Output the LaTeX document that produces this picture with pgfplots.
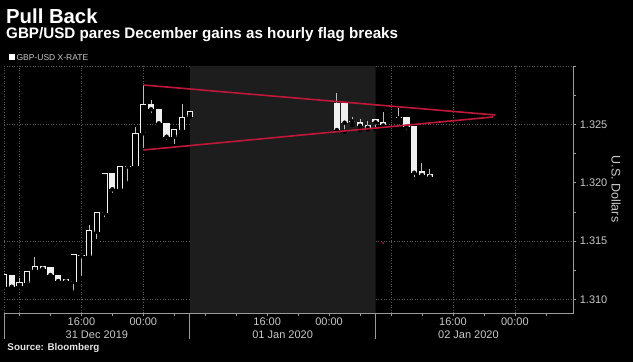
\documentclass[border=0pt]{standalone}
\usepackage{pgfplots}
\pgfplotsset{compat=1.18}
\usepackage{pgfplotstable}
\usepackage{fontspec}
\setmainfont{Liberation Sans}
\definecolor{shade}{HTML}{1D1D1D}
\definecolor{gridc}{HTML}{5A5A5A}
\definecolor{axisc}{HTML}{9A9A9A}
\definecolor{labc}{HTML}{C8C8C8}
\definecolor{bodyc}{HTML}{F0F0F0}
\definecolor{wickc}{HTML}{BDBDBD}
\definecolor{flagred}{HTML}{C0173A}

% hourly candles, h = hours after 06:00 on 31 Dec; bt/bb = body top/bottom, hi/lo = wick
\pgfplotstableread{
h bt bb hi lo
1 1.31208 1.31108 1.31208 1.31108
5 1.31283 1.31262 1.31283 1.31262
6 1.31274 1.31208 1.31274 1.31208
7 1.31208 1.31157 1.31208 1.31123
8 1.31174 1.31154 1.31174 1.31154
10 1.31378 1.31370 1.31378 1.31183
14 1.32080 1.31943 1.32080 1.31894
16 1.32147 1.32139 1.32147 1.31994
19 1.32671 1.32629 1.32708 1.32580
20 1.32629 1.32509 1.32629 1.32509
21 1.32514 1.32394 1.32514 1.32351
43 1.32685 1.32451 1.32771 1.32451
44 1.32685 1.32514 1.32685 1.32437
45 1.32532 1.32524 1.32560 1.32494
46 1.32517 1.32488 1.32543 1.32451
47 1.32494 1.32471 1.32531 1.32457
48 1.32543 1.32517 1.32543 1.32457
49 1.32517 1.32491 1.32608 1.32491
51 1.32561 1.32553 1.32637 1.32543
52 1.32560 1.32479 1.32560 1.32437
53 1.32485 1.32085 1.32485 1.32029
54 1.32097 1.32065 1.32171 1.32029
55 1.32074 1.32051 1.32117 1.32023
}\filled

\pgfplotstableread{
h bt bb hi lo
0 1.31217 1.31108 1.31217 1.31108
2 1.31146 1.31114 1.31180 1.31114
3 1.31245 1.31142 1.31245 1.31142
4 1.31288 1.31251 1.31360 1.31251
9 1.31386 1.31151 1.31386 1.31057
11 1.31591 1.31371 1.31637 1.31360
12 1.31746 1.31579 1.31746 1.31500
13 1.32080 1.31737 1.32080 1.31686
15 1.32143 1.31943 1.32143 1.31922
17 1.32423 1.32143 1.32479 1.32143
18 1.32671 1.32423 1.32837 1.32280
22 1.32457 1.32394 1.32457 1.32314
23 1.32565 1.32451 1.32674 1.32451
24 1.32617 1.32565 1.32617 1.32565
}\hollow

\begin{document}
\begin{tikzpicture}[x=1bp,y=1bp]
\fill[black] (0,0) rectangle (633,362);
\useasboundingbox (0,0) rectangle (633,362);
\begin{axis}[
  at={(4bp,48.7bp)}, anchor=south west,
  scale only axis, width=569.3bp, height=247.3bp,
  xmin=0, xmax=73.55, ymin=1.3088, ymax=1.3300,
  clip mode=individual,
  axis line style={draw=none},
  xtick pos=bottom, ytick pos=right, yticklabel pos=right,
  tick align=outside,
  xtick={0,2,10,18,26,34,42,50,58,66},
  xticklabels={,,16:00,00:00,,16:00,00:00,,16:00,00:00},
  minor xtick={6,14,22,30,38,46,54,62,70},
  ytick={1.310,1.315,1.325,1.330},
  yticklabels={1.310,1.315,1.325,},
  extra y ticks={1.320}, extra y tick labels={1.320},
  extra y tick style={grid=none},
  minor ytick={1.3125,1.3175,1.3225,1.3275},
  xticklabel style={yshift=2bp},
  extra x ticks={12,36,60},
  extra x tick labels={31 Dec 2019,01 Jan 2020,02 Jan 2020},
  extra x tick style={grid=none, major tick length=0pt, xticklabel style={yshift=-16bp}},
  xmajorgrids, ymajorgrids,
  major grid style={gridc, line width=0.6bp, dash pattern=on 1bp off 1.6bp},
  major tick length=3bp, minor tick length=3bp,
  tick style={axisc, line width=0.6bp},
  tick label style={labc, font=\fontsize{11bp}{12bp}\selectfont},
]
% holiday shading
\addplot[fill=shade, draw=none] coordinates {(24,1.3088) (48,1.3088) (48,1.3300) (24,1.3300)} \closedcycle;
% wicks
\addplot[only marks, mark=none, error bars/.cd, y dir=plus, y explicit, error mark=none,
  error bar style={wickc, line width=1bp}]
  table[x=h, y=lo, y error plus expr=\thisrow{hi}-\thisrow{lo}] {\filled};
\addplot[only marks, mark=none, error bars/.cd, y dir=plus, y explicit, error mark=none,
  error bar style={wickc, line width=1bp}]
  table[x=h, y=lo, y error plus expr=\thisrow{hi}-\thisrow{lo}] {\hollow};
% filled bodies
\addplot[only marks, mark=none, error bars/.cd, y dir=plus, y explicit, error mark=none,
  error bar style={bodyc, line width=6.2bp}]
  table[x=h, y=bb, y error plus expr=\thisrow{bt}-\thisrow{bb}] {\filled};
% hollow bodies: outline then black inside
\addplot[only marks, mark=none, error bars/.cd, y dir=plus, y explicit, error mark=none,
  error bar style={bodyc, line width=6.2bp}]
  table[x=h, y=bb, y error plus expr=\thisrow{bt}-\thisrow{bb}] {\hollow};
\addplot[only marks, mark=none, error bars/.cd, y dir=plus, y explicit, error mark=none,
  error bar style={black, line width=4.4bp}]
  table[x=h, y expr=\thisrow{bb}+0.000077, y error plus expr=\thisrow{bt}-\thisrow{bb}-0.000154] {\hollow};
% flag lines
\addplot[flagred, line width=1.6bp] coordinates {(18.0,1.32837) (63.44,1.32580)};
\addplot[flagred, line width=1.6bp] coordinates {(18.0,1.32280) (63.18,1.32563)};
\addplot[only marks, mark=*, mark size=0.6bp, flagred] coordinates {(48.97,1.31482)};
% axis lines
\draw[axisc, line width=0.8bp] (rel axis cs:0,0) -- (rel axis cs:1,0) -- (rel axis cs:1,1);
\coordinate (s0) at (axis cs:0,1.3088);
\coordinate (s1) at (axis cs:24,1.3088);
\coordinate (s2) at (axis cs:48,1.3088);
\end{axis}
\foreach \s in {s0,s1,s2} \draw[axisc, line width=0.8bp] (\s) -- ++(0,-26);
\node[anchor=base west, inner sep=0, text=white, font=\bfseries\fontsize{20.3bp}{23bp}\selectfont] at (6,338.7) {Pull Back};
\node[anchor=base west, inner sep=0, text=white, font=\bfseries\fontsize{15.2bp}{17bp}\selectfont] at (6,323.7) {GBP/USD pares December gains as hourly flag breaks};
\node[anchor=base west, inner sep=0, text=labc, font=\fontsize{8.5bp}{10bp}\selectfont] at (9,302) {\textcolor{white}{\rule{6bp}{6bp}}\,GBP-USD X-RATE};
\node[rotate=-90, text=labc, font=\fontsize{12.5bp}{14bp}\selectfont] at (616,173) {U.S. Dollars};
\node[anchor=base west, inner sep=0, text=white!90!black, font=\bfseries\fontsize{9.8bp}{11bp}\selectfont] at (7.3,12) {Source: Bloomberg};
\end{tikzpicture}
\end{document}
